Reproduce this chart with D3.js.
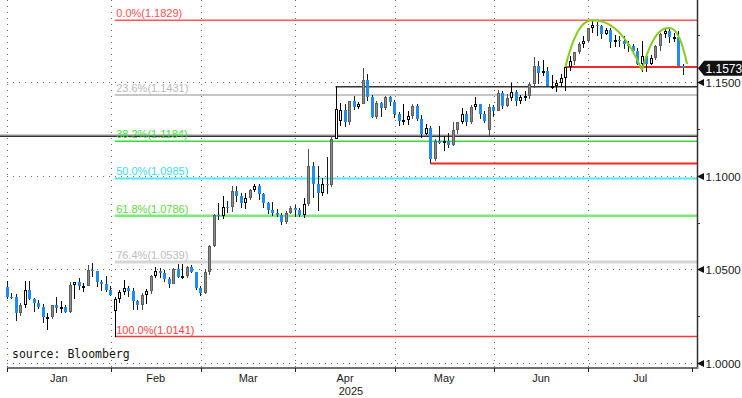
<!DOCTYPE html>
<html>
<head>
<meta charset="utf-8">
<script src="https://cdn.jsdelivr.net/npm/d3@7"></script>
<style>
  body { margin: 0; background: #fff; }
  svg { display: block; }
  text { font-family: "Liberation Sans", Arial, sans-serif; }
  text.mono { font-family: "DejaVu Sans Mono", monospace; }
</style>
</head>
<body>
<svg id="chart" width="742" height="398"></svg>
<script>
// EUR/USD daily candles, every weekday from 31 Dec 2024 to 29 Jul 2025
const opens = [
  1.0405, 1.0354, 1.0351, 1.0265, 1.0307, 1.0391, 1.0342, 1.0318, 1.0300, 1.0243,
  1.0245, 1.0308, 1.0291, 1.0300, 1.0273, 1.0416, 1.0431, 1.0409, 1.0413, 1.0495,
  1.0491, 1.0430, 1.0422, 1.0391, 1.0280, 1.0341, 1.0378, 1.0402, 1.0382, 1.0329,
  1.0307, 1.0361, 1.0382, 1.0465, 1.0493, 1.0482, 1.0447, 1.0424, 1.0500, 1.0459,
  1.0465, 1.0513, 1.0485, 1.0398, 1.0376, 1.0484, 1.0625, 1.0790, 1.0787, 1.0834,
  1.0832, 1.0919, 1.0889, 1.0852, 1.0880, 1.0923, 1.0943, 1.0900, 1.0853, 1.0816,
  1.0802, 1.0792, 1.0753, 1.0800, 1.0830, 1.0816, 1.0791, 1.0851, 1.1049, 1.0955,
  1.0909, 1.0957, 1.0950, 1.1196, 1.1290, 1.1350, 1.1286, 1.1398, 1.1368, 1.1385,
  1.1510, 1.1418, 1.1312, 1.1390, 1.1363, 1.1421, 1.1393, 1.1328, 1.1293, 1.1298,
  1.1316, 1.1370, 1.1300, 1.1223, 1.1254, 1.1088, 1.1187, 1.1174, 1.1185, 1.1164,
  1.1245, 1.1284, 1.1331, 1.1284, 1.1364, 1.1384, 1.1327, 1.1245, 1.1369, 1.1347,
  1.1443, 1.1370, 1.1417, 1.1447, 1.1397, 1.1419, 1.1423, 1.1487, 1.1585, 1.1550,
  1.1561, 1.1480, 1.1481, 1.1496, 1.1523, 1.1580, 1.1610, 1.1660, 1.1701, 1.1720,
  1.1787, 1.1803, 1.1800, 1.1757, 1.1777, 1.1711, 1.1724, 1.1719, 1.1702, 1.1690,
  1.1665, 1.1598, 1.1640, 1.1596, 1.1626, 1.1690, 1.1755, 1.1771, 1.1740, 1.1742,
  1.1588
];
const highs = [
  1.0436, 1.0375, 1.0367, 1.0318, 1.0436, 1.0437, 1.0348, 1.0334, 1.0316, 1.0265,
  1.0306, 1.0352, 1.0330, 1.0309, 1.0433, 1.0430, 1.0454, 1.0425, 1.0522, 1.0532,
  1.0492, 1.0445, 1.0467, 1.0413, 1.0350, 1.0390, 1.0442, 1.0410, 1.0400, 1.0335,
  1.0374, 1.0393, 1.0469, 1.0513, 1.0506, 1.0497, 1.0457, 1.0506, 1.0528, 1.0528,
  1.0517, 1.0522, 1.0487, 1.0411, 1.0500, 1.0628, 1.0797, 1.0854, 1.0889, 1.0867,
  1.0947, 1.0947, 1.0906, 1.0906, 1.0928, 1.0955, 1.0955, 1.0906, 1.0862, 1.0860,
  1.0820, 1.0803, 1.0810, 1.0840, 1.0845, 1.0830, 1.0880, 1.1144, 1.1073, 1.1050,
  1.0985, 1.1100, 1.1214, 1.1474, 1.1390, 1.1380, 1.1400, 1.1425, 1.1395, 1.1573,
  1.1545, 1.1430, 1.1400, 1.1395, 1.1425, 1.1425, 1.1405, 1.1340, 1.1380, 1.1345,
  1.1380, 1.1380, 1.1325, 1.1276, 1.1263, 1.1196, 1.1265, 1.1210, 1.1227, 1.1287,
  1.1289, 1.1363, 1.1345, 1.1375, 1.1419, 1.1385, 1.1345, 1.1385, 1.1375, 1.1455,
  1.1450, 1.1435, 1.1495, 1.1455, 1.1430, 1.1450, 1.1495, 1.1631, 1.1614, 1.1615,
  1.1580, 1.1540, 1.1510, 1.1542, 1.1590, 1.1641, 1.1660, 1.1715, 1.1743, 1.1790,
  1.1829, 1.1820, 1.1805, 1.1790, 1.1788, 1.1750, 1.1745, 1.1748, 1.1720, 1.1705,
  1.1680, 1.1720, 1.1645, 1.1644, 1.1700, 1.1760, 1.1789, 1.1788, 1.1760, 1.1770,
  1.1595
];
const lows = [
  1.0343, 1.0340, 1.0226, 1.0250, 1.0296, 1.0337, 1.0272, 1.0290, 1.0216, 1.0178,
  1.0234, 1.0267, 1.0267, 1.0266, 1.0265, 1.0342, 1.0388, 1.0380, 1.0409, 1.0458,
  1.0408, 1.0382, 1.0380, 1.0356, 1.0141, 1.0320, 1.0365, 1.0350, 1.0285, 1.0283,
  1.0285, 1.0316, 1.0370, 1.0452, 1.0456, 1.0435, 1.0401, 1.0420, 1.0455, 1.0450,
  1.0455, 1.0478, 1.0392, 1.0359, 1.0370, 1.0470, 1.0620, 1.0765, 1.0767, 1.0800,
  1.0805, 1.0862, 1.0830, 1.0820, 1.0871, 1.0915, 1.0870, 1.0826, 1.0797, 1.0787,
  1.0778, 1.0734, 1.0740, 1.0795, 1.0780, 1.0777, 1.0775, 1.0840, 1.0880, 1.0811,
  1.0890, 1.0900, 1.0940, 1.1194, 1.1266, 1.1260, 1.1270, 1.1350, 1.1355, 1.1380,
  1.1400, 1.1310, 1.1305, 1.1315, 1.1350, 1.1370, 1.1310, 1.1265, 1.1273, 1.1273,
  1.1305, 1.1290, 1.1200, 1.1215, 1.1065, 1.1080, 1.1170, 1.1133, 1.1150, 1.1160,
  1.1225, 1.1275, 1.1265, 1.1275, 1.1350, 1.1305, 1.1283, 1.1211, 1.1315, 1.1345,
  1.1357, 1.1365, 1.1400, 1.1373, 1.1380, 1.1400, 1.1410, 1.1470, 1.1490, 1.1530,
  1.1475, 1.1465, 1.1446, 1.1475, 1.1452, 1.1560, 1.1590, 1.1650, 1.1680, 1.1715,
  1.1760, 1.1745, 1.1730, 1.1750, 1.1680, 1.1685, 1.1685, 1.1677, 1.1660, 1.1650,
  1.1590, 1.1556, 1.1556, 1.1590, 1.1620, 1.1665, 1.1735, 1.1710, 1.1715, 1.1585,
  1.1535
];
const closes = [
  1.0354, 1.0351, 1.0265, 1.0307, 1.0391, 1.0342, 1.0318, 1.0300, 1.0243, 1.0245,
  1.0308, 1.0291, 1.0300, 1.0273, 1.0416, 1.0431, 1.0409, 1.0413, 1.0495, 1.0491,
  1.0430, 1.0422, 1.0391, 1.0362, 1.0341, 1.0378, 1.0402, 1.0382, 1.0329, 1.0307,
  1.0361, 1.0382, 1.0465, 1.0493, 1.0482, 1.0447, 1.0424, 1.0500, 1.0459, 1.0465,
  1.0513, 1.0485, 1.0398, 1.0376, 1.0484, 1.0625, 1.0790, 1.0787, 1.0834, 1.0832,
  1.0919, 1.0889, 1.0852, 1.0880, 1.0923, 1.0943, 1.0900, 1.0853, 1.0816, 1.0802,
  1.0792, 1.0753, 1.0800, 1.0830, 1.0816, 1.0791, 1.0851, 1.1049, 1.0955, 1.0909,
  1.0957, 1.0950, 1.1196, 1.1357, 1.1350, 1.1286, 1.1398, 1.1368, 1.1385, 1.1510,
  1.1418, 1.1312, 1.1390, 1.1363, 1.1421, 1.1393, 1.1328, 1.1293, 1.1298, 1.1316,
  1.1370, 1.1300, 1.1223, 1.1254, 1.1088, 1.1187, 1.1174, 1.1185, 1.1164, 1.1245,
  1.1284, 1.1331, 1.1284, 1.1364, 1.1384, 1.1327, 1.1291, 1.1369, 1.1347, 1.1443,
  1.1370, 1.1417, 1.1447, 1.1397, 1.1419, 1.1423, 1.1487, 1.1585, 1.1550, 1.1561,
  1.1480, 1.1481, 1.1496, 1.1523, 1.1580, 1.1610, 1.1660, 1.1701, 1.1720, 1.1787,
  1.1803, 1.1800, 1.1757, 1.1777, 1.1711, 1.1724, 1.1719, 1.1702, 1.1690, 1.1665,
  1.1598, 1.1640, 1.1596, 1.1626, 1.1690, 1.1755, 1.1771, 1.1740, 1.1742, 1.1588,
  1.1573
];
const lastPrice = 1.1573;

// axis
const priceTicks = [1.00, 1.05, 1.10, 1.15];
const minorTicks = [1.025, 1.075, 1.125, 1.175];
const monthLabels = ["Jan", "Feb", "Mar", "Apr", "May", "Jun", "Jul"];
const yearLabel = "2025";

// fibonacci retracement drawn from the 3 Feb low to the 1 Jul high
const fibStart = "2025-02-03";
const fibHigh = 1.1829;
const fibLow = 1.0141;
const fibRatios = [0, 0.236, 0.382, 0.5, 0.618, 0.764, 1];

// hand drawn levels: start day (null = whole chart) and price
const levelStarts = [null, null, "2025-04-11", "2025-05-12", "2025-06-23"];
const levelPrices = [1.1218, 1.1211, 1.1474, 1.1065, 1.1580];

// double top: start, peak, neckline, peak, end
const topDays = ["2025-06-23", "2025-07-01", "2025-07-16", "2025-07-24", "2025-07-30"];
const topPrices = [1.1580, 1.1829, 1.1563, 1.1788, 1.1596];

const sourceText = "source: Bloomberg";

// ---------------------------------------------------------------
const width = 742, height = 398;
const plotRight = 697, plotBottom = 368;

const svg = d3.select("#chart");

// weekday calendar used by the price axis
const fmt = d3.utcFormat("%Y-%m-%d");
const days = d3.utcDay.range(new Date(Date.UTC(2024, 11, 31)), new Date(Date.UTC(2025, 7, 1)))
  .filter(d => d.getUTCDay() !== 0 && d.getUTCDay() !== 6);
const dayIndex = s => days.findIndex(d => fmt(d) === s);

const x = d3.scaleLinear().domain([0, days.length]).range([2.5, 692]);
const y = d3.scaleLinear().domain([1.0, 1.15]).range([363, 82]);
const cx = i => x(i + 0.9);

const candles = closes.map((c, i) => ({ o: opens[i], h: highs[i], l: lows[i], c: c, i: i }));

// month boundaries
const monthStarts = [];
days.forEach((d, i) => {
  if (i > 0 && d.getUTCMonth() !== days[i - 1].getUTCMonth()) monthStarts.push(i);
});

svg.append("defs").append("clipPath").attr("id", "plot")
  .append("rect").attr("x", 0).attr("y", 0).attr("width", plotRight).attr("height", plotBottom);

const grid = svg.append("g").attr("stroke", "#6a6a6a").attr("stroke-width", 1)
  .attr("stroke-dasharray", "1,5").attr("shape-rendering", "crispEdges");

grid.selectAll(".vg").data(monthStarts).join("line")
  .attr("x1", d => Math.round(x(d)) + 0.5).attr("x2", d => Math.round(x(d)) + 0.5)
  .attr("y1", 0).attr("y2", plotBottom);

grid.selectAll(".hg").data(priceTicks).join("line")
  .attr("x1", x(monthStarts[0])).attr("x2", plotRight)
  .attr("y1", d => Math.round(y(d)) + 0.5).attr("y2", d => Math.round(y(d)) + 0.5);

const plot = svg.append("g").attr("clip-path", "url(#plot)");

// fibonacci levels
const fibColors = ["#ff5a5a", "#b4b4b4", "#3ad83a", "#4fe8f4", "#7de87d", "#d6d6d6", "#ee3b3b"];
const fibLineWidths = [1.5, 1.5, 1.5, 2, 2.5, 3, 1.5];
const fibTextColors = ["#ff4d4d", "#b9b9b9", "#3cdc3c", "#3cdcec", "#5cd83c", "#bdbdbd", "#ff4040"];
const fibX = cx(dayIndex(fibStart));
const fibLevels = fibRatios.map((r, k) => ({ r: r, v: fibHigh - r * (fibHigh - fibLow), k: k }));

plot.selectAll(".fib").data(fibLevels).join("line")
  .attr("x1", fibX).attr("x2", plotRight)
  .attr("y1", d => y(d.v)).attr("y2", d => y(d.v))
  .attr("stroke", d => fibColors[d.k]).attr("stroke-width", d => fibLineWidths[d.k]);

// hand drawn levels
const levelColors = ["#b0b0b0", "#333333", "#333333", "#ee2a2a", "#ee2a2a"];
const levelWidths = [1, 1.5, 1.5, 2, 2];
plot.selectAll(".lvl").data(levelPrices).join("line")
  .attr("x1", (d, k) => levelStarts[k] ? cx(dayIndex(levelStarts[k])) : 0)
  .attr("x2", plotRight)
  .attr("y1", d => y(d)).attr("y2", d => y(d))
  .attr("stroke", (d, k) => levelColors[k]).attr("stroke-width", (d, k) => levelWidths[k]);

// candles: blue when down, grey for a strong up day, hollow otherwise
const kind = d => d.c < d.o ? "down" : ((d.c - d.o) / (d.h - d.l) >= 0.6 ? "strong" : "up");
const wickColor = { down: "#1a1a1a", strong: "#4d4d4d", up: "#000" };

const cg = plot.append("g").attr("shape-rendering", "crispEdges");
const candle = cg.selectAll("g").data(candles).join("g");

candle.append("line")
  .attr("x1", d => Math.round(cx(d.i)) + 0.5).attr("x2", d => Math.round(cx(d.i)) + 0.5)
  .attr("y1", d => y(d.h)).attr("y2", d => y(d.l))
  .attr("stroke", d => wickColor[kind(d)]).attr("stroke-width", 1);

candle.append("rect")
  .each(function (d) {
    const px = Math.round(cx(d.i));
    const top = Math.round(y(Math.max(d.o, d.c)));
    const bot = Math.max(top + 1, Math.round(y(Math.min(d.o, d.c))));
    const k = kind(d);
    const r = d3.select(this);
    if (k === "down") {
      r.attr("x", px - 1).attr("width", 3).attr("y", top).attr("height", bot - top)
        .attr("fill", "#1e8cf2");
    } else {
      r.attr("x", px - 0.5).attr("width", 2).attr("y", top + 0.5).attr("height", Math.max(1, bot - top - 1))
        .attr("fill", k === "strong" ? "#8c8c8c" : "#fff")
        .attr("stroke", k === "strong" ? "#5e5e5e" : "#000").attr("stroke-width", 1);
    }
  });

// double top arcs
const arcPts = topDays.map((s, k) => [cx(dayIndex(s)), y(topPrices[k])]);
const dome = (a, p, b) => {
  const pts = [];
  const n = 24, pw = 2.3;
  for (let j = 0; j <= n; j++) {
    const u = 1 - j / n;
    pts.push([p[0] - (p[0] - a[0]) * u, p[1] + (a[1] - p[1]) * Math.pow(u, pw)]);
  }
  for (let j = 1; j <= n; j++) {
    const u = j / n;
    pts.push([p[0] + (b[0] - p[0]) * u, p[1] + (b[1] - p[1]) * Math.pow(u, pw)]);
  }
  return pts;
};
const arcLine = d3.line().curve(d3.curveLinear);
[[0, 1, 2], [2, 3, 4]].forEach(t => {
  plot.append("path")
    .attr("d", arcLine(dome(arcPts[t[0]], arcPts[t[1]], arcPts[t[2]])))
    .attr("fill", "none").attr("stroke", "#86cc1c").attr("stroke-width", 2);
});

// fibonacci labels
svg.selectAll(".fibText").data(fibLevels).join("text")
  .attr("x", fibX + 1.5).attr("y", d => y(d.v) - 3)
  .attr("font-size", 11).attr("fill", d => fibTextColors[d.k])
  .text(d => `${(d.r * 100).toFixed(1)}%(${d.v.toFixed(4)})`);

// right axis
svg.append("line").attr("x1", plotRight + 0.5).attr("x2", plotRight + 0.5)
  .attr("y1", 0).attr("y2", plotBottom + 1).attr("stroke", "#333").attr("stroke-width", 1.5);

svg.selectAll(".minor").data(minorTicks).join("line")
  .attr("x1", plotRight).attr("x2", plotRight + 3)
  .attr("y1", d => Math.round(y(d)) + 0.5).attr("y2", d => Math.round(y(d)) + 0.5)
  .attr("stroke", "#333");

const yt = svg.selectAll(".ytick").data(priceTicks).join("g")
  .attr("transform", d => `translate(${plotRight},${Math.round(y(d)) + 0.5})`);
yt.append("path").attr("d", "M0,0L7,-3.5L7,3.5Z").attr("fill", "#111");
yt.append("text").attr("x", 8.5).attr("y", 4).attr("font-size", 11.5).attr("fill", "#1a1a1a")
  .text(d => d.toFixed(4));

// last price tag
const ly = y(lastPrice);
svg.append("path")
  .attr("d", `M${plotRight + 1},${ly}L${plotRight + 7},${ly - 7.5}L${width},${ly - 7.5}L${width},${ly + 7.5}L${plotRight + 7},${ly + 7.5}Z`)
  .attr("fill", "#111");
svg.append("text").attr("x", plotRight + 8.5).attr("y", ly + 4.5).attr("font-size", 12)
  .attr("fill", "#fff").text(lastPrice.toFixed(4));

// bottom axis
svg.append("line").attr("x1", x(monthStarts[0])).attr("x2", plotRight + 1)
  .attr("y1", plotBottom).attr("y2", plotBottom).attr("stroke", "#6f6f6f").attr("stroke-width", 2);

const edges = monthStarts.concat([days.length]);
svg.selectAll(".xtick").data(edges).join("line")
  .attr("x1", d => Math.round(x(d)) + 0.5).attr("x2", d => Math.round(x(d)) + 0.5)
  .attr("y1", plotBottom).attr("y2", plotBottom + 4).attr("stroke", "#222");

svg.selectAll(".month").data(monthLabels).join("text")
  .attr("x", (d, k) => (x(edges[k]) + x(edges[k + 1])) / 2)
  .attr("y", 382).attr("text-anchor", "middle").attr("font-size", 11).attr("fill", "#1a1a1a")
  .text(d => d);

svg.append("text")
  .attr("x", (x(edges[3]) + x(edges[4])) / 2 + 6).attr("y", 395)
  .attr("text-anchor", "middle").attr("font-size", 11).attr("fill", "#1a1a1a")
  .text(yearLabel);

// source note
svg.append("text").attr("class", "mono").attr("x", 12).attr("y", 358)
  .attr("font-size", 11.5).attr("fill", "#111")
  .text(sourceText);
</script>
</body>
</html>
